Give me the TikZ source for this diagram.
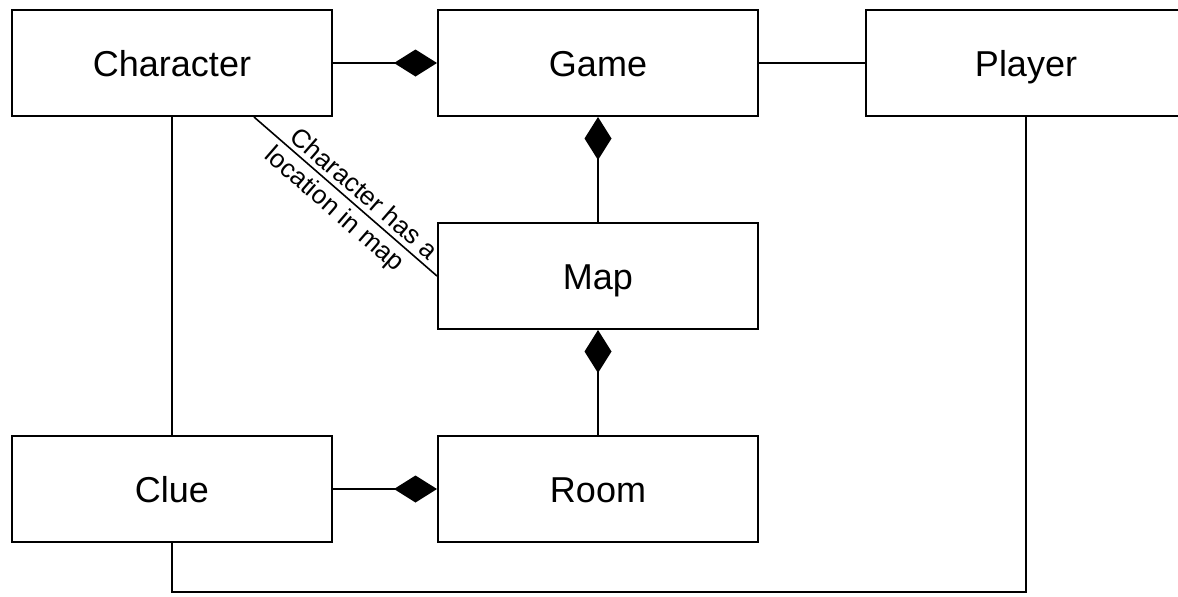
\documentclass[tikz,border=0pt]{standalone}
\usepackage{fontspec}
\setmainfont{Liberation Sans}
\usetikzlibrary{arrows.meta, positioning, calc}

\begin{document}
\begin{tikzpicture}%
	[x=0.5pt, y=-0.5pt,
	classbox/.style={draw=black, line width=1pt, minimum width=160pt, minimum height=53pt, inner sep=0pt, text height=15pt, text depth=2pt, font=\fontsize{18}{22}\selectfont},
	link/.style={draw=black, line width=0.8pt},
	comp/.style={link, -{Diamond[length=21.5pt, width=13.5pt]}},
	note/.style={font=\fontsize{13}{15}\selectfont, inner sep=2.5pt}]
%
\useasboundingbox (0,0) rectangle (1178,596);
%%
%% Drawing the classes
%%
\node[classbox] (character) at (172,63) {Character};
\node[classbox] (game) at (598,63) {Game};
\node[classbox] (player) at (1026,63) {Player};
\node[classbox] (map) at (598,276) {Map};
\node[classbox] (clue) at (172,489) {Clue};
\node[classbox] (room) at (598,489) {Room};
%%
%% Drawing the compositions
%%
\draw[comp] (character) -- (game);
\draw[comp] (map) -- (game);
\draw[comp] (room) -- (map);
\draw[comp] (clue) -- (room);
%%
%% Drawing the associations
%%
\draw[link] (game) -- (player);
\draw[link] (character) -- (clue);
\draw[link] (clue.south) -- ++(0,49) -| (player.south);
\draw[link] ([xshift=41pt]character.south) -- (map.west)
	node[note, pos=0.55, sloped, above] {Character has a}
	node[note, pos=0.5, sloped, below] {location in map};
%%
\end{tikzpicture}
\end{document}
